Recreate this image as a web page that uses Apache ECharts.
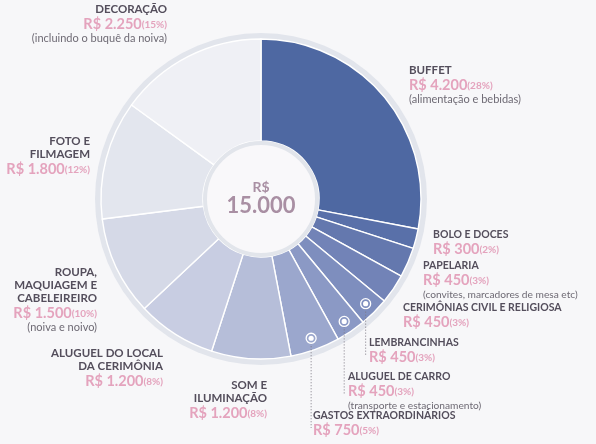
<!DOCTYPE html>
<html><head><meta charset="utf-8">
<script src="https://cdn.jsdelivr.net/npm/echarts@6/dist/echarts.min.js"></script>
<style>html,body{margin:0;padding:0;background:#f7f7f9}#c{width:596px;height:444px}</style>
</head><body><div id="c"></div>
<script>
var names = ['BUFFET','BOLO E DOCES','PAPELARIA','CERIMÔNIAS CIVIL E RELIGIOSA','LEMBRANCINHAS','ALUGUEL DE CARRO','GASTOS EXTRAORDINÁRIOS','SOM E\nILUMINAÇÃO','ALUGUEL DO LOCAL\nDA CERIMÔNIA','ROUPA,\nMAQUIAGEM E\nCABELEIREIRO','FOTO E\nFILMAGEM','DECORAÇÃO'];
var values = [4200,300,450,450,450,450,750,1200,1200,1500,1800,2250];
var percents = [28,2,3,3,3,3,5,8,8,10,12,15];
var notes = ['(alimentação e bebidas)','','(convites, marcadores de mesa etc)','','','(transporte e estacionamento)','','','','(noiva e noivo)','','(incluindo o buquê da noiva)'];
var total = 15000;
var markerIdx = [4,5,6];

var colors = ['#4e68a2','#5970a9','#6478ae','#7283b7','#7e8ebe','#8b99c5','#9ba7cd','#b6bed9','#c8cde2','#d5d9e7','#e3e6ee','#eff0f5'];
// label anchor [x, y(top), align, nameFontSize, noteFontSize]
var labelPos = [[409,64,'left',11.5,11],[433,228,'left',10.5,10.2],[423,259,'left',10.5,10.2],[403,301,'left',10.5,10.2],[369,336,'left',10.5,10.2],[348,370,'left',10.5,10.2],[313,409,'left',10.5,10.2],
  [267,379,'right',11.5,11],[163,347,'right',11.5,11],[97,266,'right',11.5,11],[90,135,'right',11.5,11],[167,3,'right',11.5,11]];
var markerEnds = [356,394,428];

var cx = 261, cy = 199, rIn = 58, rOut = 160;
function fmt(v){ var s=String(v); return s.length>3 ? s.slice(0,s.length-3)+'.'+s.slice(-3) : s; }

var graphics = [];
graphics.push({type:'circle', z:-10, shape:{cx:cx,cy:cy,r:166}, style:{fill:'#e2e5ec'}});
graphics.push({type:'circle', z:100, shape:{cx:cx,cy:cy,r:56}, style:{fill:'#f9f8fa', stroke:'#e2e5eb', lineWidth:4}});
graphics.push({type:'text', z:101, style:{x:cx, y:cy-12, text:'R$', align:'center', verticalAlign:'middle', font:'bold 14px Lato', fill:'#a98fa3'}});
graphics.push({type:'text', z:101, style:{x:cx, y:cy+7, text:fmt(total), align:'center', verticalAlign:'middle', font:'bold 22px Lato', fill:'#a98fa3'}});

for (var i=0;i<names.length;i++){
  var p = labelPos[i];
  var txt = '{n|'+names[i].split('\n').join('}\n{n|')+'}\n{v|R$ '+fmt(values[i])+'}{p|('+percents[i]+'%)}';
  if (notes[i]) txt += '\n{s|'+notes[i]+'}';
  graphics.push({type:'text', z:50, style:{x:p[0], y:p[1], text:txt, align:p[2], verticalAlign:'top',
    rich:{
      n:{font:'bold '+p[3]+'px Lato', fill:'#544e5c', lineHeight:13, align:p[2]},
      v:{font:'bold 14.5px Lato', fill:'#e4a3bd', lineHeight:16, align:p[2]},
      p:{font:'bold 10px Lato', fill:'#e4a3bd', lineHeight:16, padding:[2,0,0,0]},
      s:{font:p[4]+'px Lato', fill:'#6e6a74', lineHeight:13, align:p[2]}
    }}});
}
var cum = 0, mids = [];
for (var i=0;i<values.length;i++){ mids.push((cum + values[i]/2)/total*2*Math.PI); cum += values[i]; }
markerIdx.forEach(function(idx, k){
  var a = mids[idx], r = 148;
  var mx = cx + r*Math.sin(a), my = cy - r*Math.cos(a);
  graphics.push({type:'line', z:60, shape:{x1:mx,y1:my+5,x2:mx,y2:markerEnds[k]}, style:{stroke:'#7e7984', lineWidth:1, lineDash:[1,2]}});
  graphics.push({type:'circle', z:61, shape:{cx:mx,cy:my,r:5}, style:{fill:'none', stroke:'#ffffff', lineWidth:1.3}});
  graphics.push({type:'circle', z:61, shape:{cx:mx,cy:my,r:2.6}, style:{fill:'#ffffff'}});
});

var chart = echarts.init(document.getElementById('c'));
chart.setOption({
  backgroundColor:'#f7f7f9',
  animation:false,
  series:[{
    type:'pie', center:[cx,cy], radius:[rIn,rOut], startAngle:90, clockwise:true,
    label:{show:false}, labelLine:{show:false}, silent:true,
    itemStyle:{borderColor:'#ffffff', borderWidth:1.4},
    data: values.map(function(v,i){ return {name:names[i], value:v, itemStyle:{color:colors[i]}}; })
  }],
  graphic: graphics
});
</script></body></html>
